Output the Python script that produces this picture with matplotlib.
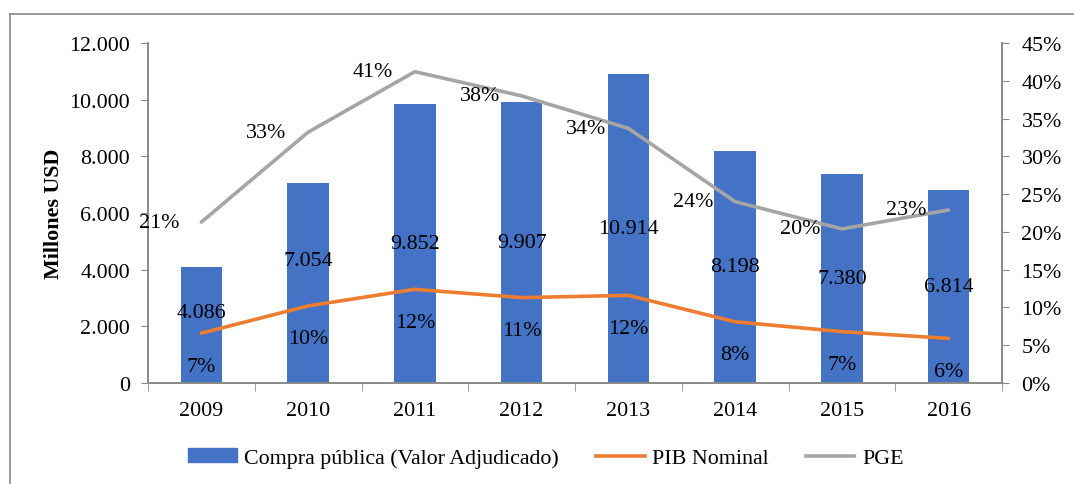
import matplotlib
matplotlib.use("Agg")
import matplotlib.pyplot as plt
from matplotlib.ticker import FuncFormatter, MultipleLocator
from matplotlib.lines import Line2D
from matplotlib.patches import Patch

years = ["2009", "2010", "2011", "2012", "2013", "2014", "2015", "2016"]
compra = [4086, 7054, 9852, 9907, 10914, 8198, 7380, 6814]
pib = [6.6, 10.2, 12.4, 11.3, 11.6, 8.1, 6.8, 5.9]
pge = [21.3, 33.2, 41.2, 38.0, 33.7, 24.0, 20.4, 22.9]
pib_labels = ["7%", "10%", "12%", "11%", "12%", "8%", "7%", "6%"]
pge_labels = ["21%", "33%", "41%", "38%", "34%", "24%", "20%", "23%"]
compra_labels = ["4.086", "7.054", "9.852", "9.907", "10.914", "8.198", "7.380", "6.814"]

BLUE = "#4472C4"
ORANGE = "#ED7D31"
GRAY = "#A5A5A5"
SPINE = "#898989"

plt.rcParams['font.family'] = ['Liberation Serif', 'DejaVu Serif']
FS = 15.8

fig = plt.figure(figsize=(10.74, 4.85), dpi=100)
W, H = 1074, 485
ax = fig.add_axes([148 / W, 1 - 384 / H, (1002 - 148) / W, (384 - 44) / H])
ax2 = ax.twinx()

x = list(range(len(years)))
ax.bar(x, compra, width=0.39, color=BLUE, zorder=2)
ax.set_xlim(-0.5, len(years) - 0.5)
ax.set_ylim(0, 12000)
ax.yaxis.set_major_locator(MultipleLocator(2000))
ax.yaxis.set_major_formatter(FuncFormatter(lambda v, p: f"{int(v):,}".replace(",", ".")))
ax.set_xticks(x)
ax.set_xticklabels(years)
ax.set_xticks([i + 0.5 for i in range(-1, len(years))], minor=True)
ax.tick_params(axis="x", which="major", length=0, pad=13, labelsize=FS)
ax.tick_params(axis="x", which="minor", length=6, color=SPINE, direction="out")
ax.tick_params(axis="y", length=5, color=SPINE, labelsize=FS, pad=8)
ax.set_ylabel("Millones USD", fontsize=FS, fontweight="bold", labelpad=4)

ax2.plot(x, pib, color=ORANGE, lw=2.6, zorder=3, solid_capstyle="round")
ax2.plot(x, pge, color=GRAY, lw=2.6, zorder=3, solid_capstyle="round")
ax2.set_ylim(0, 45)
ax2.yaxis.set_major_locator(MultipleLocator(5))
ax2.yaxis.set_major_formatter(FuncFormatter(lambda v, p: f"{int(round(v))}%"))
ax2.tick_params(axis="y", length=5, color=SPINE, labelsize=FS, pad=9)

for a in (ax, ax2):
    a.spines["top"].set_visible(False)
    for s in ("left", "right", "bottom"):
        a.spines[s].set_color(SPINE)
        a.spines[s].set_linewidth(1.2)

# bar value labels (centered in bar; first two nudged)
bar_label_shift = {0: 13, 1: 23}
for i, (v, t) in enumerate(zip(compra, compra_labels)):
    ax.annotate(t, (i, v / 2), xytext=(0, bar_label_shift.get(i, 0) * 0.72),
                textcoords="offset points", ha="center", va="center",
                fontsize=FS, zorder=5)

for i, (v, t) in enumerate(zip(pib, pib_labels)):
    ax2.annotate(t, (i, v), xytext=(0, -33 * 0.72), textcoords="offset points",
                 ha="center", va="center", fontsize=FS, zorder=5)

for i, (v, t) in enumerate(zip(pge, pge_labels)):
    ax2.annotate(t, (i, v), xytext=(-42 * 0.72, 0), textcoords="offset points",
                 ha="center", va="center", fontsize=FS, zorder=5)

handles = [Patch(facecolor=BLUE, edgecolor=BLUE),
           Line2D([0], [0], color=ORANGE, lw=2.6),
           Line2D([0], [0], color=GRAY, lw=2.6)]
fig.legend(handles, ["Compra pública (Valor Adjudicado)", "PIB Nominal", "PGE"],
           loc="center", bbox_to_anchor=(546 / W, 1 - 459 / H), ncol=3,
           frameon=False, fontsize=FS, handlelength=2.2, handleheight=0.6,
           handletextpad=0.35, columnspacing=1.7)

# outer chart border
fig.add_artist(Line2D([10 / W, 10 / W], [0, 1 - 15 / H], color=SPINE, lw=1.2,
                      transform=fig.transFigure))
fig.add_artist(Line2D([10 / W, 1], [1 - 15 / H, 1 - 15 / H], color=SPINE, lw=1.2,
                      transform=fig.transFigure))

fig.savefig("out.png", dpi=100)
